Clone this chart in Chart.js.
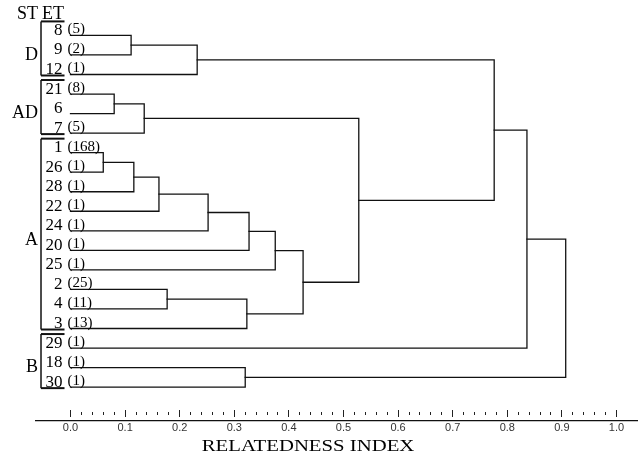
<!DOCTYPE html>
<html><head><meta charset="utf-8">
<script src="https://cdn.jsdelivr.net/npm/chart.js@4.4.1/dist/chart.umd.min.js"></script>
<style>html,body{margin:0;padding:0;background:#fff;} canvas{display:block;}</style>
</head><body>
<canvas id="c" width="638" height="454"></canvas>
<script>
// ---- data ----
const etLabels = ['8','9','12','21','6','7','1','26','28','22','24','20','25','2','4','3','29','18','30'];
const isolateCounts = ['(5)','(2)','(1)','(8)','','(5)','(168)','(1)','(1)','(1)','(1)','(1)','(1)','(25)','(11)','(13)','(1)','(1)','(1)'];
const groupNames = ['D','AD','A','B'];
const groupFirst = [0, 3, 6, 16];
const groupLast  = [2, 5, 15, 18];
// linkage: leaves are nodes 0..18, merge k creates node 19+k
const mergeLeft   = [0, 19, 3, 21, 6, 23, 24, 25, 26, 27, 13, 29, 28, 22, 20, 33, 17, 34];
const mergeRight  = [1, 2, 4, 5, 7, 8, 9, 10, 11, 12, 14, 15, 30, 31, 32, 16, 18, 35];
const mergeHeight = [0.111, 0.232, 0.080, 0.135, 0.060, 0.116, 0.162, 0.252, 0.327, 0.375, 0.177, 0.323, 0.426, 0.528, 0.776, 0.836, 0.320, 0.907];
const tickLabels = ['0.0','0.1','0.2','0.3','0.4','0.5','0.6','0.7','0.8','0.9','1.0'];
const headerST = 'ST';
const headerET = 'ET';
const axisTitle = 'RELATEDNESS INDEX';

// ---- build dendrogram segments ----
const nLeaves = etLabels.length;
const nodeY = [], nodeH = [];
for (let i = 0; i < nLeaves; i++) { nodeY.push(i); nodeH.push(0); }
const datasets = [];
for (let k = 0; k < mergeHeight.length; k++) {
  const a = mergeLeft[k], b = mergeRight[k], H = mergeHeight[k];
  datasets.push({
    data: [{x: nodeH[a], y: nodeY[a]}, {x: H, y: nodeY[a]}, {x: H, y: nodeY[b]}, {x: nodeH[b], y: nodeY[b]}],
    showLine: true, borderColor: '#111', borderWidth: 1.3, pointRadius: 0, fill: false, tension: 0
  });
  nodeY.push((nodeY[a] + nodeY[b]) / 2);
  nodeH.push(H);
}

const majorValues = tickLabels.map(parseFloat);
const minorValues = [];
for (let i = 0; i <= 50; i++) minorValues.push(Math.round(i * 2) / 100);
const isMajor = v => Math.abs(v * 10 - Math.round(v * 10)) < 1e-6;

const SERIF = '"Liberation Serif", "DejaVu Serif", serif';

const labelPlugin = {
  id: 'labels',
  afterDatasetsDraw(chart) {
    const ctx = chart.ctx, xs = chart.scales.x, ys = chart.scales.y;
    const x0 = xs.getPixelForValue(0);
    ctx.save();
    ctx.fillStyle = '#000';
    ctx.textBaseline = 'alphabetic';
    // leaf labels
    for (let i = 0; i < nLeaves; i++) {
      const y = ys.getPixelForValue(i);
      ctx.font = '17px ' + SERIF;
      ctx.textAlign = 'right';
      ctx.fillText(etLabels[i], x0 - 8, y - 0.5);
      if (isolateCounts[i]) {
        ctx.font = '15px ' + SERIF;
        ctx.textAlign = 'left';
        ctx.fillText(isolateCounts[i], x0 - 3, y - 2);
      }
    }
    // group brackets
    const bx = x0 - 29.5, capEnd = x0 - 6;
    ctx.strokeStyle = '#111';
    for (let g = 0; g < groupNames.length; g++) {
      const yt = ys.getPixelForValue(groupFirst[g]) - 14;
      const yb = ys.getPixelForValue(groupLast[g]) + 1;
      ctx.lineWidth = 1.5;
      ctx.beginPath(); ctx.moveTo(bx, yt); ctx.lineTo(bx, yb); ctx.stroke();
      ctx.lineWidth = 2;
      ctx.beginPath(); ctx.moveTo(bx, yt); ctx.lineTo(capEnd, yt); ctx.stroke();
      ctx.beginPath(); ctx.moveTo(bx, yb); ctx.lineTo(capEnd, yb); ctx.stroke();
      const ym = ys.getPixelForValue((groupFirst[g] + groupLast[g]) / 2);
      ctx.font = '18px ' + SERIF;
      ctx.textAlign = 'right';
      ctx.textBaseline = 'middle';
      ctx.fillText(groupNames[g], bx - 3, ym);
      ctx.textBaseline = 'alphabetic';
    }
    // header
    const yh = ys.getPixelForValue(groupFirst[0]) - 16;
    ctx.font = '18px ' + SERIF;
    ctx.textAlign = 'right';
    ctx.fillText(headerST, bx - 3, yh);
    ctx.textAlign = 'left';
    ctx.fillText(headerET, bx + 1, yh);
    // axis title (stretched horizontally like the scan)
    ctx.save();
    ctx.translate(xs.getPixelForValue(0.435), chart.height - 3.5);
    ctx.scale(1.22, 1);
    ctx.font = '17px ' + SERIF;
    ctx.textAlign = 'center';
    ctx.fillText(axisTitle, 0, 0);
    ctx.restore();
    ctx.restore();
  }
};

new Chart(document.getElementById('c'), {
  type: 'scatter',
  data: { datasets },
  plugins: [labelPlugin],
  options: {
    responsive: false,
    animation: false,
    devicePixelRatio: 1,
    layout: { padding: { top: 6, left: 36, right: 0, bottom: 18 } },
    plugins: { legend: { display: false }, tooltip: { enabled: false }, title: { display: false } },
    elements: { line: { borderCapStyle: 'square' } },
    scales: {
      y: { type: 'linear', reverse: true, min: -1.505, max: 19.16, display: false },
      x: {
        type: 'linear', position: 'bottom', min: -0.0632, max: 1.0394,
        afterBuildTicks: s => { s.ticks = minorValues.map(v => ({value: v})); },
        ticks: { display: false },
        border: { display: false },
        grid: {
          drawOnChartArea: false, drawTicks: true, tickLength: 11,
          tickColor: '#222', tickWidth: 1,
          tickBorderDash: c => (c.tick && isMajor(c.tick.value)) ? [7, 20] : [0, 2, 3, 20]
        }
      },
      x2: {
        type: 'linear', position: 'bottom', min: -0.0632, max: 1.0394,
        afterBuildTicks: s => { s.ticks = majorValues.map(v => ({value: v})); },
        ticks: {
          autoSkip: false, maxRotation: 0, padding: 1, color: '#333',
          font: { family: '"Liberation Sans", Arial, sans-serif', size: 11 },
          callback: (v, i) => tickLabels[i]
        },
        border: { display: true, color: '#111', width: 1.3 },
        grid: { display: false, drawTicks: false }
      }
    }
  }
});
</script>
</body></html>
